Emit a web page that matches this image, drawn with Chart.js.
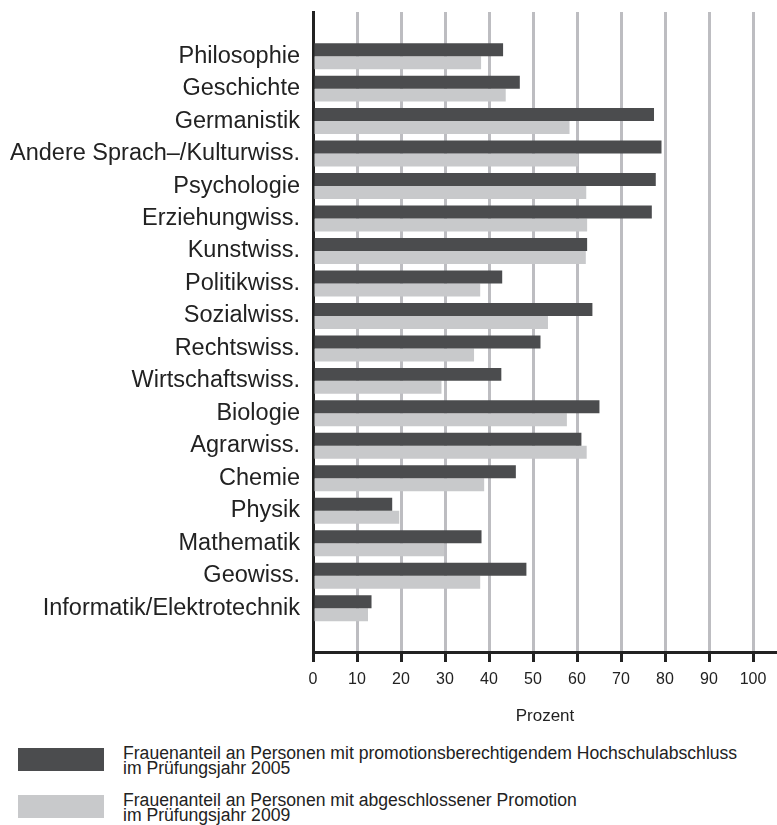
<!DOCTYPE html>
<html>
<head>
<meta charset="utf-8">
<script src="https://cdn.jsdelivr.net/npm/chart.js@4/dist/chart.umd.min.js"></script>
<style>
  body { margin: 0; background: #fff; font-family: "Liberation Sans", Arial, sans-serif; }
  #wrap { position: relative; width: 777px; height: 825px; }
  #frauenChart { position: absolute; left: 0; top: 0; }
  .leg { position: absolute; left: 0; width: 777px; }
  .leg .box { position: absolute; left: 18px; width: 86px; height: 23px; }
  .leg .txt { position: absolute; left: 123px; font-size: 17.6px; line-height: 14.5px; color: #222; white-space: nowrap; }
</style>
</head>
<body>
<div id="wrap">
  <canvas id="frauenChart" width="777" height="735"></canvas>
  <div id="legend"></div>
</div>
<script>
// Faecher (von oben nach unten)
const categories = ["Philosophie", "Geschichte", "Germanistik", "Andere Sprach\u2013/Kulturwiss.",
  "Psychologie", "Erziehungwiss.", "Kunstwiss.", "Politikwiss.", "Sozialwiss.", "Rechtswiss.",
  "Wirtschaftswiss.", "Biologie", "Agrarwiss.", "Chemie", "Physik", "Mathematik", "Geowiss.",
  "Informatik/Elektrotechnik"];

// Frauenanteil in Prozent
const share2005 = [43.2, 47.0, 77.5, 79.2, 77.9, 77.0, 62.3, 43.0, 63.5, 51.7, 42.8, 65.1, 61.0, 46.1, 18.0, 38.3, 48.5, 13.3];
const share2009 = [38.2, 43.8, 58.3, 60.3, 62.1, 62.3, 62.0, 38.0, 53.4, 36.6, 29.2, 57.7, 62.2, 38.9, 19.6, 29.8, 38.0, 12.5];

const xTicks = [0, 10, 20, 30, 40, 50, 60, 70, 80, 90, 100];

const seriesLabels = [
  ["Frauenanteil an Personen mit promotionsberechtigendem Hochschulabschluss", "im Pr\u00fcfungsjahr 2005"],
  ["Frauenanteil an Personen mit abgeschlossener Promotion", "im Pr\u00fcfungsjahr 2009"]
];
const seriesColors = ["#4b4c4e", "#c8c9cb"];

function toPoints(values) {
  return values.map((v, i) => ({ x: v, y: i }));
}

const ctx = document.getElementById('frauenChart').getContext('2d');
const chart = new Chart(ctx, {
  type: 'bar',
  data: {
    datasets: [
      { label: seriesLabels[0].join(' '), data: toPoints(share2005), backgroundColor: seriesColors[0] },
      { label: seriesLabels[1].join(' '), data: toPoints(share2009), backgroundColor: seriesColors[1] }
    ]
  },
  options: {
    indexAxis: 'y',
    responsive: false,
    animation: false,
    layout: { padding: { top: 12, right: 0, bottom: 0, left: 0 } },
    datasets: { bar: { categoryPercentage: 0.8, barPercentage: 1.0 } },
    plugins: { legend: { display: false }, tooltip: { enabled: false } },
    scales: {
      x: {
        type: 'linear',
        bounds: 'data',
        offset: false,
        min: 0,
        max: 105.45,
        afterBuildTicks: s => { s.ticks = xTicks.map(v => ({ value: v })); },
        afterFit: s => { s.height = 83; s.paddingLeft = 0; s.paddingRight = 0; },
        grid: {
          offset: false,
          color: c => (c.tick && c.tick.value === 0) ? 'rgba(0,0,0,0)' : '#bdbdc1',
          lineWidth: 3,
          tickColor: '#222',
          tickWidth: 3,
          tickLength: 10
        },
        border: { color: '#222', width: 3 },
        ticks: { color: '#222', font: { family: 'Liberation Sans', size: 16 }, padding: 8, maxRotation: 0 },
        title: {
          display: true,
          text: 'Prozent',
          color: '#222',
          font: { family: 'Liberation Sans', size: 17 },
          padding: { top: 4, bottom: 8 }
        }
      },
      y: {
        type: 'linear',
        bounds: 'data',
        offset: false,
        reverse: true,
        min: -1.36,
        max: 18.35,
        afterBuildTicks: s => { s.ticks = categories.map((c, i) => ({ value: i })); },
        afterFit: s => { s.width = 313; s.paddingTop = 0; s.paddingBottom = 0; },
        grid: { display: false, drawTicks: false, offset: false },
        border: { color: '#222', width: 3 },
        ticks: {
          autoSkip: false,
          color: '#222',
          padding: 13,
          font: { family: 'Liberation Sans', size: 23.5 },
          callback: v => categories[v] !== undefined ? categories[v] : ''
        }
      }
    }
  }
});

// Legende als HTML unter dem Diagramm
const legendTops = [746, 793];
const boxTops = [748, 795];
document.getElementById('legend').innerHTML = seriesLabels.map((lines, i) =>
  '<div class="leg">' +
    '<div class="box" style="top:' + boxTops[i] + 'px;background:' + seriesColors[i] + '"></div>' +
    '<div class="txt" style="top:' + legendTops[i] + 'px">' + lines.join('<br>') + '</div>' +
  '</div>'
).join('');
</script>
</body>
</html>
